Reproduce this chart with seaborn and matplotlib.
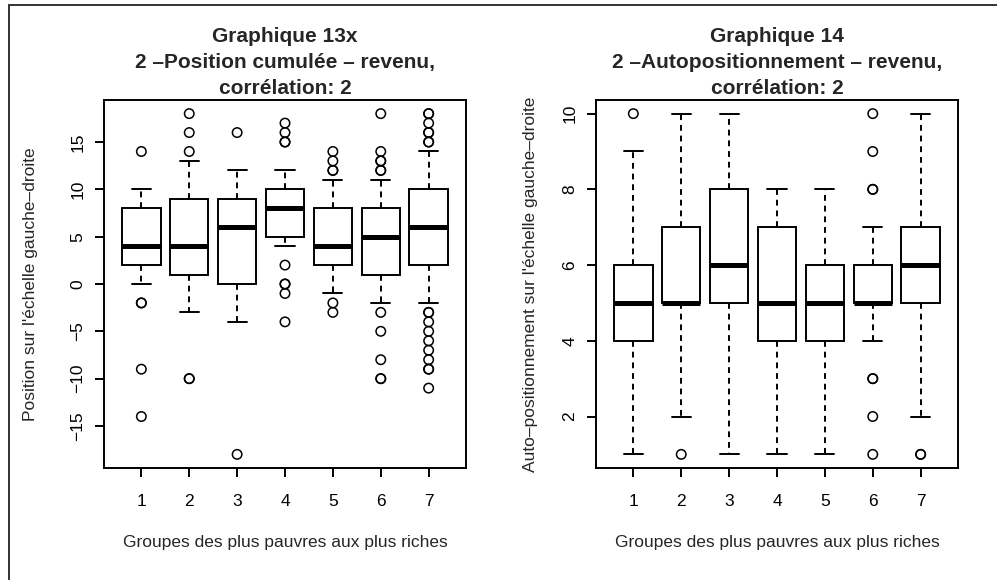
import numpy as np
import pandas as pd
import matplotlib
matplotlib.use("Agg")
import matplotlib.pyplot as plt
from matplotlib.lines import Line2D
import seaborn as sns

# Income groups, poorest (1) to richest (7)
groups = ["1", "2", "3", "4", "5", "6", "7"]

# Graphique 13x — cumulated left-right position: box summaries per group
cum_low = [0, -3, -4, 4, -1, -2, -2]
cum_q1 = [2, 1, 0, 5, 2, 1, 2]
cum_med = [4, 4, 6, 8, 4, 5, 6]
cum_q3 = [8, 9, 9, 10, 8, 8, 10]
cum_high = [10, 13, 12, 12, 11, 11, 14]
cum_outliers = [
    [14, -2, -2, -9, -14],
    [14, 16, 18, -10, -10],
    [16, -18],
    [15, 15, 16, 17, 2, 0, 0, -1, -4],
    [12, 12, 13, 14, -2, -3],
    [12, 12, 13, 13, 14, 18, -3, -5, -8, -10, -10],
    [15, 15, 16, 16, 17, 18, 18, -3, -3, -4, -5, -6, -7, -8, -9, -9, -11],
]

# Graphique 14 — self-placement on the left-right scale
auto_low = [1, 2, 1, 1, 1, 4, 2]
auto_q1 = [4, 5, 5, 4, 4, 5, 5]
auto_med = [5, 5, 6, 5, 5, 5, 6]
auto_q3 = [6, 7, 8, 7, 6, 6, 7]
auto_high = [9, 10, 10, 8, 8, 7, 10]
auto_outliers = [
    [10],
    [1],
    [],
    [],
    [],
    [10, 9, 8, 8, 3, 3, 2, 1],
    [1, 1],
]

titles = [
    "Graphique 13x\n2 \u2013Position cumulée \u2013 revenu,\ncorrélation: 2",
    "Graphique 14\n2 \u2013Autopositionnement \u2013 revenu,\ncorrélation: 2",
]
ylabels = [
    "Position sur l'échelle gauche\u2013droite",
    "Auto\u2013positionnement sur l'échelle gauche\u2013droite",
]
xlabel = "Groupes des plus pauvres aux plus riches"
yticks = [[-15, -10, -5, 0, 5, 10, 15], [2, 4, 6, 8, 10]]

sns.set_theme(style="ticks")
plt.rcParams["font.family"] = ["Liberation Sans", "DejaVu Sans"]
plt.rcParams["axes.unicode_minus"] = True


def summary_frame(low, q1, med, q3, high):
    rows = []
    for g, vals in zip(groups, zip(low, q1, med, q3, high)):
        rows += [(g, v) for v in vals]
    return pd.DataFrame(rows, columns=["groupe", "valeur"])


def outlier_frame(outliers):
    rows = [(g, v) for g, vals in zip(groups, outliers) for v in vals]
    return pd.DataFrame(rows, columns=["groupe", "valeur"])


W, H = 997, 580
fig = plt.figure(figsize=(W / 100, H / 100), dpi=100)
fig.patch.set_facecolor("white")

panels = [
    (104, summary_frame(cum_low, cum_q1, cum_med, cum_q3, cum_high),
     outlier_frame(cum_outliers), (-19.44, 19.44), 30),
    (596, summary_frame(auto_low, auto_q1, auto_med, auto_q3, auto_high),
     outlier_frame(auto_outliers), (0.64, 10.36), 530),
]

lw = 1.4
for i, (left_px, box_df, out_df, ylim, ylab_px) in enumerate(panels):
    ax_w = 362
    ax = fig.add_axes([left_px / W, (H - 468) / H, ax_w / W, 368 / H])
    sns.boxplot(
        data=box_df, x="groupe", y="valeur", order=groups,
        whis=(0, 100), width=0.8, color="white", linecolor="black",
        linewidth=lw, showfliers=False, ax=ax,
        whiskerprops=dict(linestyle=(0, (3, 2.5))),
        medianprops=dict(linewidth=3.6),
    )
    sns.stripplot(
        data=out_df, x="groupe", y="valeur", order=groups, jitter=False,
        size=6.8, marker="o", facecolor="none", edgecolor="black",
        linewidth=1.1, ax=ax,
    )
    for coll in ax.collections:
        coll.set_facecolor("none")
        coll.set_edgecolor("black")

    ax.set_xlim(-0.78, 6.78)
    ax.set_ylim(*ylim)
    ax.set_yticks(yticks[i])
    for side in ["top", "right", "left", "bottom"]:
        ax.spines[side].set_visible(True)
        ax.spines[side].set_linewidth(lw)
        ax.spines[side].set_color("black")
    ax.tick_params(axis="both", direction="out", length=6.5, width=lw,
                   color="black", labelsize=12.5, labelcolor="black")
    ax.tick_params(axis="y", labelrotation=90, pad=7)
    ax.tick_params(axis="x", pad=12)
    for lab in ax.get_yticklabels():
        lab.set_va("center")

    ax.set_title(titles[i], fontsize=15, fontweight="bold",
                 y=1 + 29.5 / 368, va="center", linespacing=1.47)
    ax.set_xlabel(xlabel, fontsize=12.5, va="center")
    ax.xaxis.set_label_coords(0.5, (468 - 542) / 368)
    ax.set_ylabel(ylabels[i], fontsize=12.5, va="center")
    ax.yaxis.set_label_coords((ylab_px - left_px) / ax_w, 0.5)

# Outer frame of the page
fig.add_artist(Line2D([9 / W, 9 / W], [0, 1 - 5 / H], color="#333333",
                      lw=1.4, transform=fig.transFigure))
fig.add_artist(Line2D([9 / W, 1], [1 - 5 / H, 1 - 5 / H], color="#333333",
                      lw=1.4, transform=fig.transFigure))

fig.savefig("out.png", dpi=100, facecolor="white")
